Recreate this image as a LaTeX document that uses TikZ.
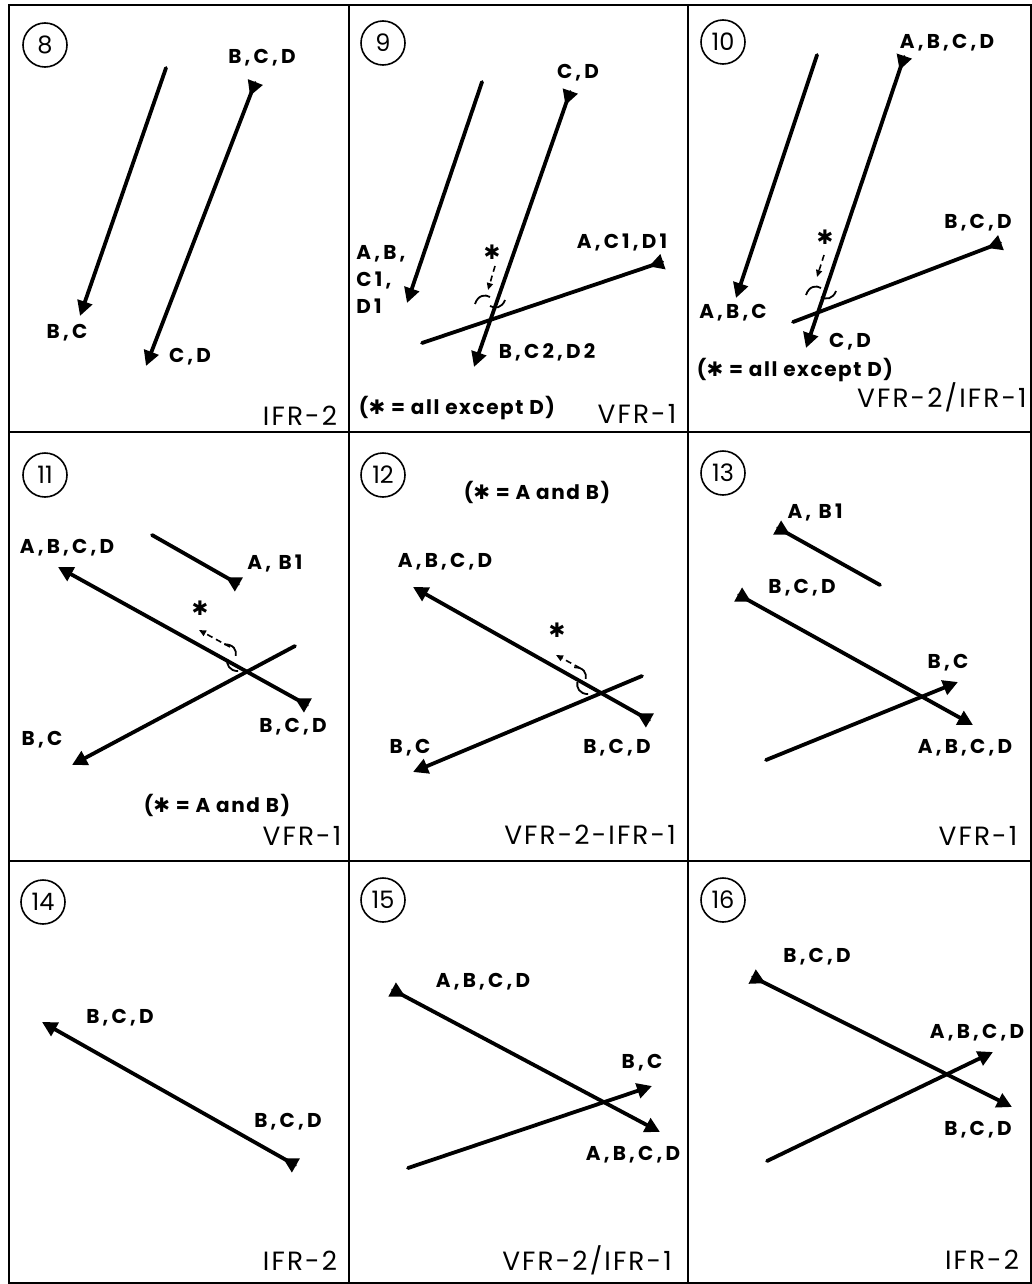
\documentclass[tikz,border=0pt]{standalone}
\usepackage{fontspec}
\setmainfont{Poppins}
\newfontfamily\lblfont[LetterSpace=16]{Poppins}
\newfontfamily\ttlfont[LetterSpace=8]{Poppins}
\newfontfamily\notefont[LetterSpace=8]{Poppins}
\newfontfamily\symfont{DejaVu Sans}
\newcommand{\astsym}{{\symfont\bfseries ✱}}
\usetikzlibrary{arrows.meta,decorations.markings}
\tikzset{
  gridline/.style={line width=1.3pt},
  fpath/.style={line width=1.9pt, line cap=round},
  endtip/.style={-{Triangle[length=7.5pt,width=7.5pt]}},
  startmark/.style={postaction={decorate,decoration={markings,
      mark=at position 7pt with {\arrow{Triangle[length=7.5pt,width=7.5pt]}}}}},
  lbl/.style={font=\lblfont\bfseries\fontsize{10}{12.5}\selectfont, inner sep=0pt},
  ttl/.style={font=\ttlfont\fontsize{13.2}{15}\selectfont, inner sep=0pt},
  notetxt/.style={font=\notefont\bfseries\fontsize{10}{12}\selectfont, inner sep=0pt},
  numc/.style={circle, draw, line width=0.8pt, minimum size=22pt, inner sep=0pt,
      font=\fontsize{12}{14}\selectfont},
  astk/.style={font=\symfont\bfseries\fontsize{10}{11}\selectfont, inner sep=0pt},
  dsh/.style={dashed, dash pattern=on 3pt off 2pt, line width=0.8pt,
      -{Triangle[length=3.5pt,width=3pt]}},
  brk/.pic={\draw[line width=0.9pt] (-15,4) .. controls (-12,-5) and (-5,-6) .. (0,-3);
            \draw[line width=0.9pt] (0,6) .. controls (5,9) and (12,8) .. (15,0);}
}
\begin{document}
\begin{tikzpicture}[x=0.5pt,y=-0.5pt]
\useasboundingbox (0,0) rectangle (1032,1284);
\fill[white] (0,0) rectangle (1032,1284);
% grid
\draw[gridline] (9,5) rectangle (1031,1283);
\draw[gridline] (349,5) -- (349,1283);
\draw[gridline] (688,5) -- (688,1283);
\draw[gridline] (9,432) -- (1031,432);
\draw[gridline] (9,861) -- (1031,861);

% ---------- panel 8
\node[numc] (n8) at (45,45) {8};
\coordinate (a8s) at (166,68);  \coordinate (a8e) at (80,316);
\coordinate (b8s) at (255,83);  \coordinate (b8e) at (146,366);
\draw[fpath,endtip] (a8s) -- (a8e);
\draw[fpath,endtip,startmark] (b8s) -- (b8e);
\node[lbl] (l8a) at (262,58) {B,C,D};
\node[lbl] (l8b) at (67,333) {B,C};
\node[lbl] (l8c) at (190,357) {C,D};
\node[ttl] (t8) at (300,416) {IFR-2};

% ---------- panel 9
\node[numc] (n9) at (383,43) {9};
\coordinate (a9s) at (482,82);  \coordinate (a9e) at (407,303);
\coordinate (b9s) at (570,92);  \coordinate (b9e) at (474,367);
\coordinate (c9s) at (662,262); \coordinate (c9e) at (422,343);
\draw[fpath,endtip] (a9s) -- (a9e);
\draw[fpath,endtip,startmark] (b9s) -- (b9e);
\draw[fpath,startmark] (c9s) -- (c9e);
\node[lbl] (l9a) at (578,73) {C,D};
\node[lbl,anchor=west,align=left] (l9b) at (356,279) {A,B,\\[1pt]C1,\\[1pt]D1};
\node[lbl] (l9c) at (622,242) {A,C1,D1};
\node[lbl] (l9d) at (547,352) {B,C2,D2};
\node[astk] (s9) at (492,252) {✱};
\coordinate (d9s) at (495,266); \coordinate (d9e) at (488,290);
\draw[dsh] (d9s) -- (d9e);
\pic at (490,300) {brk};
\node[notetxt] (m9) at (457,408) {(\astsym{} = all except D)};
\node[ttl] (t9) at (637,414) {VFR-1};

% ---------- panel 10
\node[numc] (n10) at (723,42) {10};
\coordinate (a10s) at (817,55);  \coordinate (a10e) at (736,298);
\coordinate (b10s) at (904,57);  \coordinate (b10e) at (806,348);
\coordinate (c10s) at (1000,243); \coordinate (c10e) at (793,322);
\draw[fpath,endtip] (a10s) -- (a10e);
\draw[fpath,endtip,startmark] (b10s) -- (b10e);
\draw[fpath,startmark] (c10s) -- (c10e);
\node[lbl] (l10a) at (947,43) {A,B,C,D};
\node[lbl] (l10b) at (978,223) {B,C,D};
\node[lbl] (l10c) at (733,313) {A,B,C};
\node[lbl] (l10d) at (850,342) {C,D};
\node[astk] (s10) at (825,237) {✱};
\coordinate (d10s) at (824,255); \coordinate (d10e) at (817,277);
\draw[dsh] (d10s) -- (d10e);
\pic at (821,291) {brk};
\node[notetxt] (m10) at (795,370) {(\astsym{} = all except D)};
\node[ttl,anchor=east] (t10) at (1027,397) {VFR-2/IFR-1};

% ---------- panel 11
\node[numc] (n11) at (45,475) {11};
\coordinate (e11s) at (238,584); \coordinate (e11e) at (152,535);
\coordinate (f11s) at (307,705); \coordinate (f11e) at (58,567);
\coordinate (g11s) at (295,646); \coordinate (g11e) at (72,765);
\draw[fpath,startmark] (e11s) -- (e11e);
\draw[fpath,endtip,startmark] (f11s) -- (f11e);
\draw[fpath,endtip] (g11s) -- (g11e);
\node[lbl] (l11a) at (67,548) {A,B,C,D};
\node[lbl] (l11b) at (275,563) {A, B1};
\node[lbl] (l11c) at (293,727) {B,C,D};
\node[lbl] (l11d) at (42,740) {B,C};
\node[astk] (s11) at (200,608) {✱};
\coordinate (d11s) at (230,647); \coordinate (d11e) at (199,630);
\draw[dsh] (d11s) -- (d11e);
\pic[rotate=-70] at (233,657) {brk};
\node[notetxt] (m11) at (217,805) {(\astsym{} = A and B)};
\node[ttl] (t11) at (302,836) {VFR-1};

% ---------- panel 12
\node[numc] (n12) at (383,475) {12};
\coordinate (f12s) at (649,720); \coordinate (f12e) at (413,587);
\coordinate (g12s) at (642,676); \coordinate (g12e) at (413,772);
\draw[fpath,endtip,startmark] (f12s) -- (f12e);
\draw[fpath,endtip] (g12s) -- (g12e);
\node[notetxt] (m12) at (537,492) {(\astsym{} = A and B)};
\node[lbl] (l12a) at (445,562) {A,B,C,D};
\node[lbl] (l12b) at (410,748) {B,C};
\node[lbl] (l12c) at (617,748) {B,C,D};
\node[astk] (s12) at (557,630) {✱};
\coordinate (d12s) at (580,668); \coordinate (d12e) at (556,655);
\draw[dsh] (d12s) -- (d12e);
\pic[rotate=-70] at (583,680) {brk};
\node[ttl] (t12) at (590,835) {VFR-2-IFR-1};

% ---------- panel 13
\node[numc] (n13) at (723,473) {13};
\coordinate (e13s) at (778,528); \coordinate (e13e) at (880,585);
\coordinate (f13s) at (739,595); \coordinate (f13e) at (973,725);
\coordinate (g13s) at (766,760); \coordinate (g13e) at (958,682);
\draw[fpath,startmark] (e13s) -- (e13e);
\draw[fpath,endtip,startmark] (f13s) -- (f13e);
\draw[fpath,endtip] (g13s) -- (g13e);
\node[lbl] (l13a) at (815,512) {A, B1};
\node[lbl] (l13b) at (802,588) {B,C,D};
\node[lbl] (l13c) at (948,663) {B,C};
\node[lbl] (l13d) at (965,748) {A,B,C,D};
\node[ttl] (t13) at (978,836) {VFR-1};

% ---------- panel 14
\node[numc] (n14) at (43,902) {14};
\coordinate (f14s) at (295,1165); \coordinate (f14e) at (42,1022);
\draw[fpath,endtip,startmark] (f14s) -- (f14e);
\node[lbl] (l14a) at (120,1018) {B,C,D};
\node[lbl] (l14b) at (288,1122) {B,C,D};
\node[ttl] (t14) at (300,1261) {IFR-2};

% ---------- panel 15
\node[numc] (n15) at (383,900) {15};
\coordinate (f15s) at (393,990); \coordinate (f15e) at (660,1132);
\coordinate (g15s) at (408,1168); \coordinate (g15e) at (652,1086);
\draw[fpath,endtip,startmark] (f15s) -- (f15e);
\draw[fpath,endtip] (g15s) -- (g15e);
\node[lbl] (l15a) at (483,982) {A,B,C,D};
\node[lbl] (l15b) at (642,1063) {B,C};
\node[lbl] (l15c) at (633,1155) {A,B,C,D};
\node[ttl] (t15) at (587,1260) {VFR-2/IFR-1};

% ---------- panel 16
\node[numc] (n16) at (723,900) {16};
\coordinate (f16s) at (753,977); \coordinate (f16e) at (1012,1107);
\coordinate (g16s) at (767,1161); \coordinate (g16e) at (993,1052);
\draw[fpath,endtip,startmark] (f16s) -- (f16e);
\draw[fpath,endtip] (g16s) -- (g16e);
\node[lbl] (l16a) at (817,957) {B,C,D};
\node[lbl] (l16b) at (977,1033) {A,B,C,D};
\node[lbl] (l16c) at (978,1130) {B,C,D};
\node[ttl] (t16) at (982,1260) {IFR-2};
\end{tikzpicture}
\end{document}
